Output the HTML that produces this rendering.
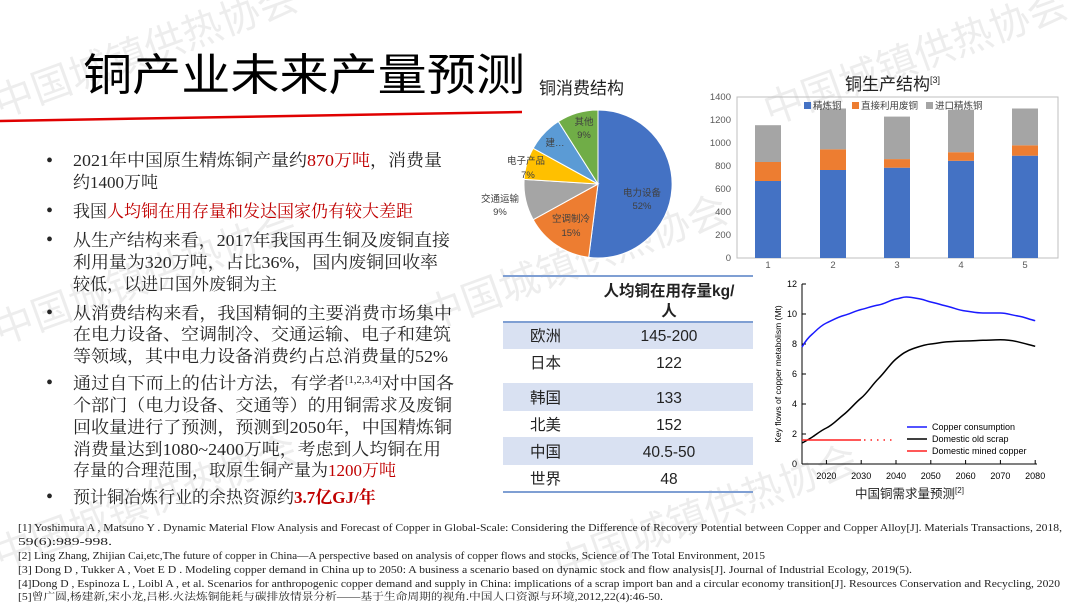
<!DOCTYPE html>
<html><head><meta charset="utf-8"><style>
html,body{margin:0;padding:0;background:#fff;}
svg{display:block;}
.s{font-family:"Liberation Sans","Noto Sans CJK SC",sans-serif;}
.sf{font-family:"Liberation Serif","Noto Serif CJK SC",serif;}
</style></head><body>
<svg width="1080" height="608" viewBox="0 0 1080 608" xmlns="http://www.w3.org/2000/svg">
<!-- watermarks -->
<g class="s" font-size="40" fill="#000" fill-opacity="0.07">
<text transform="translate(0,118) rotate(-20)">中国城镇供热协会</text>
<text transform="translate(770,125) rotate(-20)">中国城镇供热协会</text>
<text transform="translate(430,330) rotate(-20)">中国城镇供热协会</text>
<text transform="translate(0,345) rotate(-20)">中国城镇供热协会</text>
<text transform="translate(0,570) rotate(-20)">中国城镇供热协会</text>
<text transform="translate(560,580) rotate(-20)">中国城镇供热协会</text>
</g>
<!-- title -->
<text class="s" x="83" y="90" font-size="44" fill="#000" textLength="442" lengthAdjust="spacingAndGlyphs">铜产业未来产量预测</text>
<line x1="0" y1="121" x2="522" y2="112" stroke="#e00000" stroke-width="2.5"/>
<!-- bullets -->
<g class="sf" font-size="17" fill="#262626">
<g font-size="20"><text x="46" y="167">•</text><text x="46" y="217">•</text><text x="46" y="246">•</text><text x="46" y="319">•</text><text x="46" y="389">•</text><text x="46" y="503">•</text></g>
<text x="73" y="166" textLength="369" lengthAdjust="spacingAndGlyphs">2021年中国原生精炼铜产量约<tspan fill="#c00000">870万吨</tspan>，消费量</text>
<text x="73" y="188">约1400万吨</text>
<text x="73" y="217">我国<tspan fill="#c00000">人均铜在用存量和发达国家仍有较大差距</tspan></text>
<text x="73" y="246" textLength="377" lengthAdjust="spacingAndGlyphs">从生产结构来看，2017年我国再生铜及废铜直接</text>
<text x="73" y="268" textLength="365" lengthAdjust="spacingAndGlyphs">利用量为320万吨，占比36%，国内废铜回收率</text>
<text x="73" y="290">较低，以进口国外废铜为主</text>
<text x="73" y="319" textLength="379" lengthAdjust="spacingAndGlyphs">从消费结构来看，我国精铜的主要消费市场集中</text>
<text x="73" y="340" textLength="378" lengthAdjust="spacingAndGlyphs">在电力设备、空调制冷、交通运输、电子和建筑</text>
<text x="73" y="362" textLength="375" lengthAdjust="spacingAndGlyphs">等领域，其中电力设备消费约占总消费量的52%</text>
<text x="73" y="389" textLength="381" lengthAdjust="spacingAndGlyphs">通过自下而上的估计方法，有学者<tspan font-size="10" dy="-6">[1,2,3,4]</tspan><tspan dy="6">对中国各</tspan></text>
<text x="73" y="411" textLength="379" lengthAdjust="spacingAndGlyphs">个部门（电力设备、交通等）的用铜需求及废铜</text>
<text x="73" y="433" textLength="379" lengthAdjust="spacingAndGlyphs">回收量进行了预测，预测到2050年，中国精炼铜</text>
<text x="73" y="455" textLength="368" lengthAdjust="spacingAndGlyphs">消费量达到1080~2400万吨，考虑到人均铜在用</text>
<text x="73" y="476">存量的合理范围，取原生铜产量为<tspan fill="#c00000">1200万吨</tspan></text>
<text x="73" y="503">预计铜冶炼行业的余热资源约<tspan fill="#c00000" font-weight="bold">3.7亿GJ/年</tspan></text>
</g>
<!-- pie -->
<text class="s" x="539" y="94" font-size="17" fill="#222">铜消费结构</text>
<g stroke="#fff" stroke-width="1">
<path d="M598,184 L598,110 A74,74 0 1 1 588.7,257.4 Z" fill="#4472c4"/>
<path d="M598,184 L588.7,257.4 A74,74 0 0 1 533.2,219.7 Z" fill="#ed7d31"/>
<path d="M598,184 L533.2,219.7 A74,74 0 0 1 524.1,179.4 Z" fill="#a5a5a5"/>
<path d="M598,184 L524.1,179.4 A74,74 0 0 1 533.2,148.3 Z" fill="#ffc000"/>
<path d="M598,184 L533.2,148.3 A74,74 0 0 1 558.4,121.5 Z" fill="#5b9bd5"/>
<path d="M598,184 L558.4,121.5 A74,74 0 0 1 598,110 Z" fill="#70ad47"/>
</g>
<g class="s" font-size="9.5" fill="#404040" text-anchor="middle">
<text x="642" y="196">电力设备</text><text x="642" y="209">52%</text>
<text x="571" y="222">空调制冷</text><text x="571" y="236">15%</text>
<text x="500" y="202">交通运输</text><text x="500" y="215">9%</text>
<text x="526" y="164">电子产品</text><text x="528" y="178">7%</text>
<text x="555" y="146">建…</text>
<text x="584" y="125">其他</text><text x="584" y="138">9%</text>
</g>
<!-- bar chart -->
<text class="s" x="845" y="90" font-size="17" fill="#222">铜生产结构<tspan font-size="9" dy="-7">[3]</tspan></text>
<rect x="737" y="97" width="321" height="161" fill="none" stroke="#bfbfbf" stroke-width="1"/>
<g class="s" font-size="9.5" fill="#595959" text-anchor="end">
<text x="731" y="261">0</text><text x="731" y="238">200</text><text x="731" y="215">400</text><text x="731" y="192">600</text><text x="731" y="169">800</text><text x="731" y="146">1000</text><text x="731" y="123">1200</text><text x="731" y="100">1400</text>
</g>
<g class="s" font-size="9.5" fill="#595959" text-anchor="middle">
<text x="768" y="268">1</text><text x="833" y="268">2</text><text x="897" y="268">3</text><text x="961" y="268">4</text><text x="1025" y="268">5</text>
</g>
<g>
<rect x="755" y="181" width="26" height="77" fill="#4472c4"/><rect x="755" y="162" width="26" height="19" fill="#ed7d31"/><rect x="755" y="125.2" width="26" height="36.8" fill="#a5a5a5"/>
<rect x="820" y="170" width="26" height="88" fill="#4472c4"/><rect x="820" y="149.3" width="26" height="20.7" fill="#ed7d31"/><rect x="820" y="108.5" width="26" height="40.8" fill="#a5a5a5"/>
<rect x="884" y="167.7" width="26" height="90.3" fill="#4472c4"/><rect x="884" y="159.1" width="26" height="8.6" fill="#ed7d31"/><rect x="884" y="116.6" width="26" height="42.5" fill="#a5a5a5"/>
<rect x="948" y="160.8" width="26" height="97.2" fill="#4472c4"/><rect x="948" y="152.2" width="26" height="8.6" fill="#ed7d31"/><rect x="948" y="109.7" width="26" height="42.5" fill="#a5a5a5"/>
<rect x="1012" y="155.7" width="26" height="102.3" fill="#4472c4"/><rect x="1012" y="145.3" width="26" height="10.4" fill="#ed7d31"/><rect x="1012" y="108.5" width="26" height="36.8" fill="#a5a5a5"/>
</g>
<g class="s" font-size="9.5" fill="#404040">
<rect x="804" y="102" width="7" height="7" fill="#4472c4"/><text x="813" y="109">精炼铜</text>
<rect x="852" y="102" width="7" height="7" fill="#ed7d31"/><text x="861" y="109">直接利用废铜</text>
<rect x="926" y="102" width="7" height="7" fill="#a5a5a5"/><text x="935" y="109">进口精炼铜</text>
</g>
<!-- table -->
<rect x="503" y="322" width="250" height="27" fill="#d9e1f2"/>
<rect x="503" y="383" width="250" height="28" fill="#d9e1f2"/>
<rect x="503" y="437" width="250" height="28" fill="#d9e1f2"/>
<g stroke="#7f9fd3" stroke-width="2"><line x1="503" y1="276" x2="753" y2="276"/><line x1="503" y1="322" x2="753" y2="322"/><line x1="503" y1="492" x2="753" y2="492"/></g>
<g class="s" font-size="15.5" fill="#222">
<text x="669" y="296" text-anchor="middle" font-weight="bold">人均铜在用存量kg/</text>
<text x="669" y="316" text-anchor="middle" font-weight="bold">人</text>
<text x="530" y="341">欧洲</text><text x="669" y="341" text-anchor="middle">145-200</text>
<text x="530" y="368">日本</text><text x="669" y="368" text-anchor="middle">122</text>
<text x="530" y="403">韩国</text><text x="669" y="403" text-anchor="middle">133</text>
<text x="530" y="430">北美</text><text x="669" y="430" text-anchor="middle">152</text>
<text x="530" y="457">中国</text><text x="669" y="457" text-anchor="middle">40.5-50</text>
<text x="530" y="484">世界</text><text x="669" y="484" text-anchor="middle">48</text>
</g>
<!-- line chart -->
<g stroke="#000" stroke-width="1" fill="none">
<line x1="802" y1="284" x2="802" y2="464"/><line x1="802" y1="464" x2="1037" y2="464"/>
<path d="M802,464h4M802,434h4M802,404h4M802,374h4M802,344h4M802,314h4M802,284h4"/>
<path d="M826.4,464v-4M861.2,464v-4M896,464v-4M930.8,464v-4M965.6,464v-4M1000.4,464v-4M1035.2,464v-4"/>
</g>
<g class="s" font-size="9" fill="#000" text-anchor="end">
<text x="797" y="467">0</text><text x="797" y="437">2</text><text x="797" y="407">4</text><text x="797" y="377">6</text><text x="797" y="347">8</text><text x="797" y="317">10</text><text x="797" y="287">12</text>
</g>
<g class="s" font-size="9" fill="#000" text-anchor="middle">
<text x="826.4" y="479">2020</text><text x="861.2" y="479">2030</text><text x="896" y="479">2040</text><text x="930.8" y="479">2050</text><text x="965.6" y="479">2060</text><text x="1000.4" y="479">2070</text><text x="1035.2" y="479">2080</text>
</g>
<text class="s" font-size="8.5" transform="translate(781,374) rotate(-90)" text-anchor="middle">Key flows of copper metabolism (Mt)</text>
<path d="M802,347 C806,340 810,336 812.4,334 S820,326 826.4,323 S838,317 843.8,315.5 S855,311 861.2,309.5 S872,306 878.6,305 S890,300 896,299 S902,297 906.4,297 S915,298 920.3,299 S926,301 930.8,302 S942,305 948.2,306.5 S958,310 965.6,311 S976,313 983,313 S994,313 1000.4,313 S1011,315 1017.8,316 S1028,319 1035.2,320.7" fill="none" stroke="#1a1aff" stroke-width="1.5"/>
<path d="M802,443 C806,441 809,439 812.4,437 S820,431 826.4,428 S838,419 843.8,414.5 S855,403 861.2,398 S872,385 878.6,378.5 S890,364 896,359 S906,351 913.4,348.5 S925,344.5 930.8,344 S942,342 948.2,341.8 S958,341 965.6,341 S976,340.5 983,340.3 S994,339.8 1000.4,339.8 S1012,340.5 1017.8,341.8 S1030,345 1035.2,346.3" fill="none" stroke="#000" stroke-width="1.5"/>
<line x1="802" y1="440" x2="861" y2="440" stroke="#ff2020" stroke-width="1.5"/>
<line x1="864" y1="440" x2="895" y2="440" stroke="#ff2020" stroke-width="1.5" stroke-dasharray="1.5,5"/>
<g class="s" font-size="9" fill="#000">
<line x1="907" y1="427" x2="927" y2="427" stroke="#1a1aff" stroke-width="1.5"/><text x="932" y="430">Copper consumption</text>
<line x1="907" y1="439" x2="927" y2="439" stroke="#000" stroke-width="1.5"/><text x="932" y="442">Domestic old scrap</text>
<line x1="907" y1="451" x2="927" y2="451" stroke="#ff2020" stroke-width="1.5"/><text x="932" y="454">Domestic mined copper</text>
</g>
<text class="s" x="855" y="498" font-size="12.5" fill="#222">中国铜需求量预测<tspan font-size="8" dy="-5">[2]</tspan></text>
<!-- references -->
<g class="sf" font-size="10" fill="#222">
<text x="18" y="531" textLength="1044" lengthAdjust="spacingAndGlyphs">[1] Yoshimura A , Matsuno Y . Dynamic Material Flow Analysis and Forecast of Copper in Global-Scale: Considering the Difference of Recovery Potential between Copper and Copper Alloy[J]. Materials Transactions, 2018,</text>
<text x="18" y="545" textLength="94" lengthAdjust="spacingAndGlyphs">59(6):989-998.</text>
<text x="18" y="559" textLength="747" lengthAdjust="spacingAndGlyphs">[2] Ling Zhang, Zhijian Cai,etc,The future of copper in China—A perspective based on analysis of copper flows and stocks, Science of The Total Environment, 2015</text>
<text x="18" y="573" textLength="894" lengthAdjust="spacingAndGlyphs">[3] Dong D , Tukker A , Voet E D . Modeling copper demand in China up to 2050: A business a scenario based on dynamic stock and flow analysis[J]. Journal of Industrial Ecology, 2019(5).</text>
<text x="18" y="587" textLength="1042" lengthAdjust="spacingAndGlyphs">[4]Dong D , Espinoza L , Loibl A , et al. Scenarios for anthropogenic copper demand and supply in China: implications of a scrap import ban and a circular economy transition[J]. Resources Conservation and Recycling, 2020</text>
<text x="18" y="600" textLength="645" lengthAdjust="spacingAndGlyphs">[5]曾广圆,杨建新,宋小龙,吕彬.火法炼铜能耗与碳排放情景分析——基于生命周期的视角.中国人口资源与环境,2012,22(4):46-50.</text>
</g>
</svg>
</body></html>
